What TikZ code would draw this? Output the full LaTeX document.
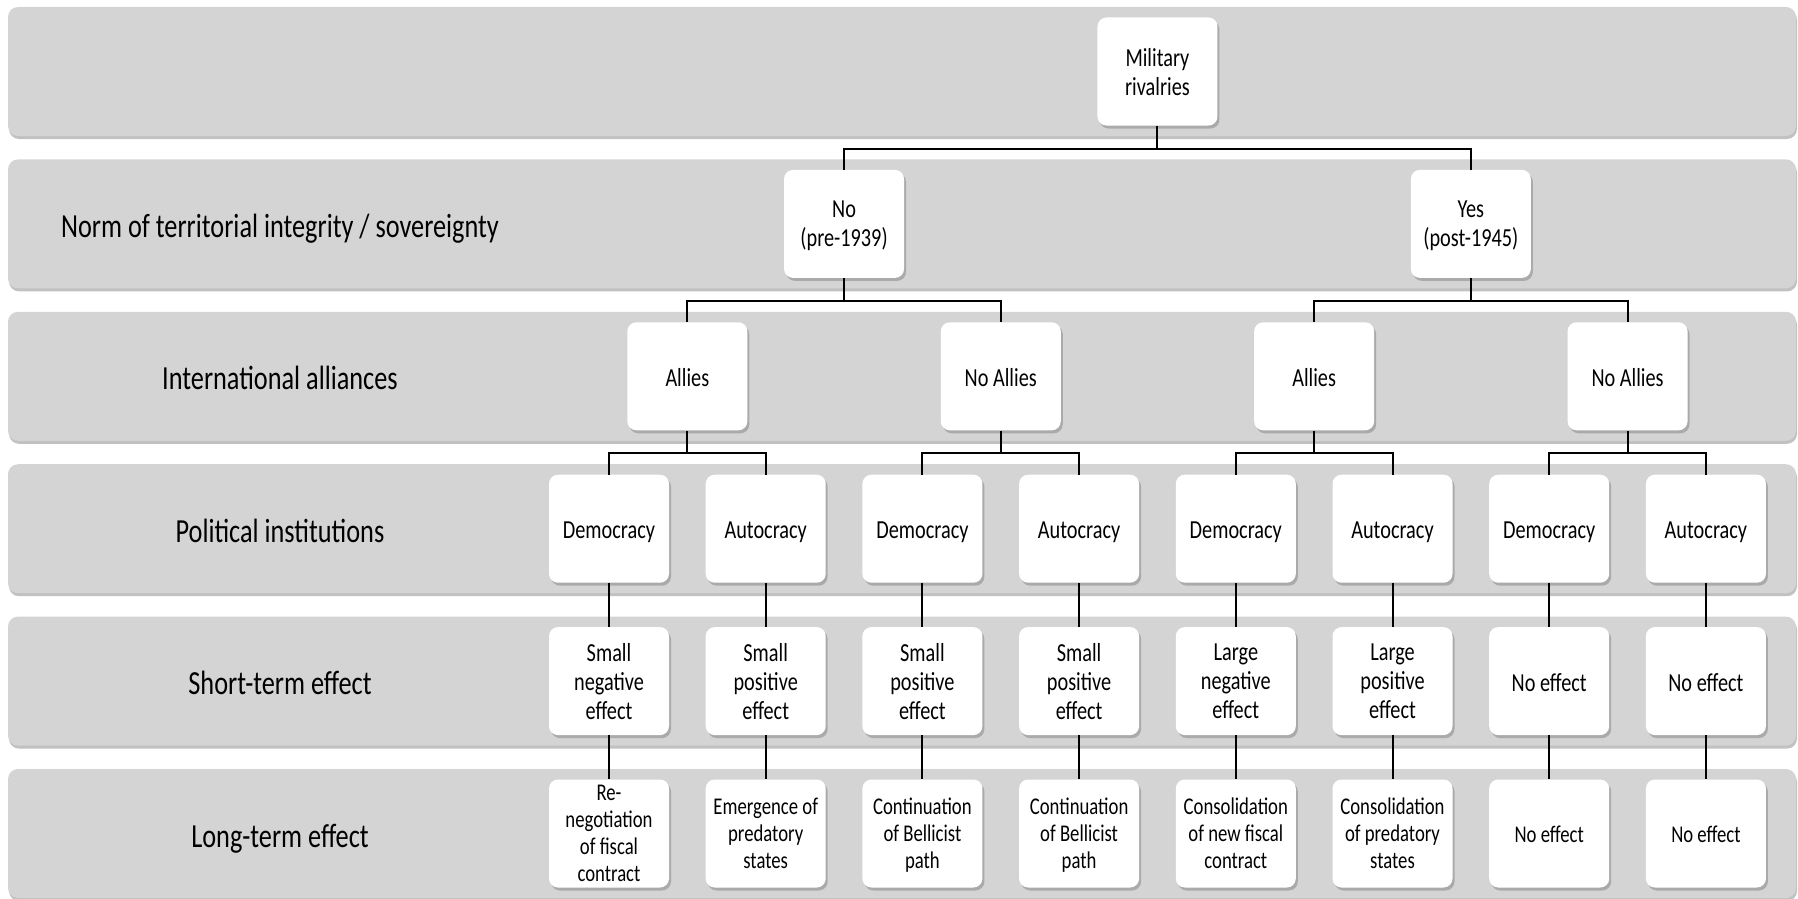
\documentclass[tikz,border=0pt]{standalone}
\usepackage{fontspec}
\setmainfont{Carlito}[FakeStretch=0.78]
\usetikzlibrary{shadows}
\definecolor{bandgray}{RGB}{212,212,212}
\begin{document}
\begin{tikzpicture}[x=1pt,y=-1pt,
  band/.style={fill=bandgray, rounded corners=10pt, draw=none,
    drop shadow={shadow xshift=1pt, shadow yshift=-3pt, opacity=0.35, fill=black!70}},
  box/.style={fill=white, rounded corners=9pt, minimum width=120pt, minimum height=108pt,
    inner sep=0pt, align=center, font=\fontsize{26}{29}\selectfont, text depth=0pt,
    drop shadow={shadow xshift=2pt, shadow yshift=-3pt, opacity=0.3, fill=black!70}},
  one/.style={text height=20pt},
  lbox/.style={box, font=\fontsize{24}{27}\selectfont},
  lone/.style={text height=18.5pt},
  lab/.style={font=\fontsize{33.7}{38}\selectfont, anchor=center, text height=27pt, text depth=0pt},
  conn/.style={draw=black, line width=2pt}]
\useasboundingbox (0,0) rectangle (1798,899);
% bands
\foreach \k in {0,...,5}{
  \pgfmathsetmacro{\bt}{7+152.4*\k}
  \pgfmathsetmacro{\bb}{136+152.4*\k}
  \path[band] (8,\bt) rectangle (1796,\bb);
}
% row labels
\node[lab] (l2) at (280,223.9) {Norm of territorial integrity / sovereignty};
\node[lab] (l3) at (280,376.3) {International alliances};
\node[lab] (l4) at (280,528.7) {Political institutions};
\node[lab] (l5) at (280,681.1) {Short-term effect};
\node[lab] (l6) at (280,833.5) {Long-term effect};
% tree nodes
\node[box] (mil) at (1157.45,71.5) {Military\\rivalries};
\node[box] (no) at (844.05,223.9) {No\\(pre-1939)};
\node[box] (yes) at (1470.85,223.9) {Yes\\(post-1945)};
\node[box,one] (a1) at (687.35,376.3) {Allies};
\node[box,one] (a2) at (1000.75,376.3) {No Allies};
\node[box,one] (a3) at (1314.15,376.3) {Allies};
\node[box,one] (a4) at (1627.55,376.3) {No Allies};
\node[box,one] (p1) at (609.0,528.7) {Democracy};
\node[box,one] (p2) at (765.7,528.7) {Autocracy};
\node[box,one] (p3) at (922.4,528.7) {Democracy};
\node[box,one] (p4) at (1079.1,528.7) {Autocracy};
\node[box,one] (p5) at (1235.8,528.7) {Democracy};
\node[box,one] (p6) at (1392.5,528.7) {Autocracy};
\node[box,one] (p7) at (1549.2,528.7) {Democracy};
\node[box,one] (p8) at (1705.9,528.7) {Autocracy};
\node[box] (s1) at (609.0,681.1) {Small\\negative\\effect};
\node[box] (s2) at (765.7,681.1) {Small\\positive\\effect};
\node[box] (s3) at (922.4,681.1) {Small\\positive\\effect};
\node[box] (s4) at (1079.1,681.1) {Small\\positive\\effect};
\node[box] (s5) at (1235.8,681.1) {Large\\negative\\effect};
\node[box] (s6) at (1392.5,681.1) {Large\\positive\\effect};
\node[box,one] (s7) at (1549.2,681.1) {No effect};
\node[box,one] (s8) at (1705.9,681.1) {No effect};
\node[lbox] (t1) at (609.0,833.5) {Re-\\negotiation\\of fiscal\\contract};
\node[lbox] (t2) at (765.7,833.5) {Emergence of\\predatory\\states};
\node[lbox] (t3) at (922.4,833.5) {Continuation\\of Bellicist\\path};
\node[lbox] (t4) at (1079.1,833.5) {Continuation\\of Bellicist\\path};
\node[lbox] (t5) at (1235.8,833.5) {Consolidation\\of new fiscal\\contract};
\node[lbox] (t6) at (1392.5,833.5) {Consolidation\\of predatory\\states};
\node[lbox,lone] (t7) at (1549.2,833.5) {No effect};
\node[lbox,lone] (t8) at (1705.9,833.5) {No effect};
% junctions
\coordinate (j0) at (1157.45,148.5);
\coordinate (j1) at (844.05,300.9);
\coordinate (j2) at (1470.85,300.9);
\coordinate (k1) at (687.35,453.3);
\coordinate (k2) at (1000.75,453.3);
\coordinate (k3) at (1314.15,453.3);
\coordinate (k4) at (1627.55,453.3);
% connectors
\draw[conn] (mil.south) -- (j0) -| (no.north);
\draw[conn] (j0) -| (yes.north);
\draw[conn] (no.south) -- (j1) -| (a1.north);
\draw[conn] (j1) -| (a2.north);
\draw[conn] (yes.south) -- (j2) -| (a3.north);
\draw[conn] (j2) -| (a4.north);
\draw[conn] (a1.south) -- (k1) -| (p1.north);
\draw[conn] (k1) -| (p2.north);
\draw[conn] (a2.south) -- (k2) -| (p3.north);
\draw[conn] (k2) -| (p4.north);
\draw[conn] (a3.south) -- (k3) -| (p5.north);
\draw[conn] (k3) -| (p6.north);
\draw[conn] (a4.south) -- (k4) -| (p7.north);
\draw[conn] (k4) -| (p8.north);
\foreach \i in {1,...,8}{
  \draw[conn] (p\i.south) -- (s\i.north);
  \draw[conn] (s\i.south) -- (t\i.north);
}
\end{tikzpicture}
\end{document}
